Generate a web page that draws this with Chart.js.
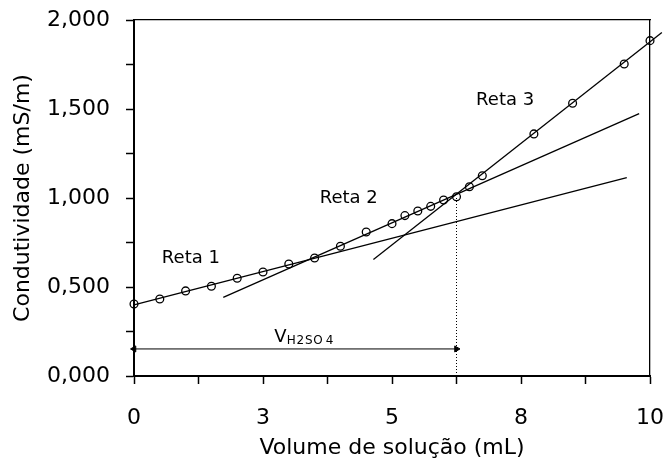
<!DOCTYPE html>
<html>
<head>
<meta charset="utf-8">
<script src="https://cdn.jsdelivr.net/npm/chart.js@4.4.1/dist/chart.umd.min.js"></script>
<style>
  html, body { margin: 0; padding: 0; background: #fff; }
  #wrap { width: 665px; height: 463px; }
</style>
</head>
<body>
<div id="wrap"><canvas id="chart"></canvas></div>
<script>
'use strict';

// measured points (mL, mS/m)
const volume = [0, 0.5, 1, 1.5, 2, 2.5, 3, 3.5, 4, 4.5, 5, 5.25, 5.5, 5.75, 6, 6.25, 6.5, 6.75, 7.75, 8.5, 9.5, 10];
const condutividade = [0.404, 0.433, 0.478, 0.504, 0.549, 0.584, 0.629, 0.663, 0.729, 0.809, 0.856, 0.901, 0.927, 0.953, 0.989, 1.007, 1.063, 1.125, 1.360, 1.532, 1.753, 1.884];

// fitted lines (end points)
const reta1X = [0, 9.55];
const reta1Y = [0.40, 1.115];
const reta2X = [1.73, 9.79];
const reta2Y = [0.442, 1.474];
const reta3X = [4.64, 10.23];
const reta3Y = [0.655, 1.93];

// equivalence volume marker
const vEquiv = 6.25;
const vEquivTop = 1.01;
const arrowY = 0.152;

const xTickLabels = ['0', '3', '5', '8', '10'];
const yTickLabels = ['0,000', '0,500', '1,000', '1,500', '2,000'];

const retaLabels = ['Reta 1', 'Reta 2', 'Reta 3'];
const retaLabelX = [0.54, 3.6, 6.63];
const retaLabelY = [0.663, 1.0, 1.55];

const FONT = "'DejaVu Sans', Verdana, sans-serif";

function pts(xs, ys) {
    let out = [];
    for (let i = 0; i < xs.length; i++) {
        out.push({ x: xs[i], y: ys[i] });
    }
    return out;
}

function fitLine(xs, ys) {
    return {
        type: 'line',
        data: pts(xs, ys),
        borderColor: '#000',
        borderWidth: 1.3,
        pointRadius: 0,
        fill: false,
        clip: false
    };
}

// text labels placed in data coordinates
const labelPlugin = {
    id: 'labels',
    afterDatasetsDraw(chart) {
        const ctx = chart.ctx;
        const xs = chart.scales.x;
        const ys = chart.scales.y;
        ctx.save();
        ctx.fillStyle = '#000';
        ctx.textBaseline = 'middle';
        ctx.textAlign = 'left';
        ctx.font = '18px ' + FONT;
        for (let i = 0; i < retaLabels.length; i++) {
            ctx.fillText(retaLabels[i], xs.getPixelForValue(retaLabelX[i]), ys.getPixelForValue(retaLabelY[i]));
        }
        // V with subscript H2SO4
        const vx = xs.getPixelForValue(2.72);
        const vy = ys.getPixelForValue(0.22);
        ctx.fillText('V', vx, vy);
        const w = ctx.measureText('V').width;
        ctx.font = '12px ' + FONT;
        let sx = vx + w;
        const sub = ['H', '2', 'S', 'O', '4'];
        for (let i = 0; i < sub.length; i++) {
            ctx.fillText(sub[i], sx, vy + 4);
            sx += ctx.measureText(sub[i]).width + (i === 3 ? 3 : 0.8);
        }
        ctx.restore();
    }
};

const data = {
    datasets: [
        fitLine(reta1X, reta1Y),
        fitLine(reta2X, reta2Y),
        fitLine(reta3X, reta3Y),
        {
            type: 'line',
            data: pts([vEquiv, vEquiv], [0, vEquivTop]),
            borderColor: '#000',
            borderWidth: 1,
            borderDash: [1, 2],
            pointRadius: 0,
            clip: false
        },
        {
            type: 'line',
            data: pts([0, vEquiv], [arrowY, arrowY]),
            borderColor: '#000',
            borderWidth: 1,
            pointStyle: 'triangle',
            pointRadius: 3.5,
            pointRotation: [270, 90],
            pointBackgroundColor: '#000',
            pointBorderColor: '#000',
            pointBorderWidth: 1,
            clip: false
        },
        {
            type: 'scatter',
            data: pts(volume, condutividade),
            pointStyle: 'circle',
            pointRadius: 3.9,
            pointBorderWidth: 1.3,
            pointBorderColor: '#000',
            pointBackgroundColor: 'rgba(0,0,0,0)',
            showLine: false,
            clip: false
        }
    ]
};

const config = {
    type: 'scatter',
    data: data,
    options: {
        responsive: true,
        maintainAspectRatio: false,
        animation: false,
        events: [],
        layout: { padding: { left: 0, right: 15, top: 20, bottom: 0 } },
        plugins: {
            legend: { display: false },
            tooltip: { enabled: false }
        },
        scales: {
            x: {
                type: 'linear',
                position: 'bottom',
                min: 0,
                max: 10,
                afterFit(s) {
                    s.height = 87;
                    s.paddingLeft = 0;
                    s.paddingRight = 0;
                },
                border: { display: true, color: '#000', width: 2 },
                grid: { drawOnChartArea: false, drawTicks: true, tickLength: 8, tickColor: '#000', tickWidth: 1.5 },
                ticks: {
                    stepSize: 1.25,
                    autoSkip: false,
                    maxRotation: 0,
                    padding: 21,
                    color: '#000',
                    font: { family: FONT, size: 22 },
                    callback: function (value, index) {
                        return index % 2 === 0 ? xTickLabels[index / 2] : '';
                    }
                },
                title: {
                    display: true,
                    text: 'Volume de solução (mL)',
                    color: '#000',
                    font: { family: FONT, size: 22 },
                    padding: { top: 0, bottom: 2 }
                }
            },
            y: {
                type: 'linear',
                position: 'left',
                min: 0,
                max: 2,
                afterFit(s) {
                    s.width = 134;
                    s.paddingTop = 0;
                    s.paddingBottom = 0;
                },
                border: { display: true, color: '#000', width: 2 },
                grid: { drawOnChartArea: false, drawTicks: true, tickLength: 8, tickColor: '#000', tickWidth: 1.5 },
                ticks: {
                    stepSize: 0.25,
                    autoSkip: false,
                    padding: 16,
                    color: '#000',
                    font: { family: FONT, size: 22 },
                    callback: function (value, index) {
                        return index % 2 === 0 ? yTickLabels[index / 2] : '';
                    }
                },
                title: {
                    display: true,
                    text: 'Condutividade (mS/m)',
                    color: '#000',
                    font: { family: FONT, size: 22 },
                    padding: { top: 10, bottom: 0 }
                }
            },
            xTop: {
                type: 'linear',
                position: 'top',
                min: 0,
                max: 10,
                afterFit(s) { s.height = 0; },
                border: { display: true, color: '#000', width: 1.3 },
                grid: { display: false },
                ticks: { display: false }
            },
            yRight: {
                type: 'linear',
                position: 'right',
                min: 0,
                max: 2,
                afterFit(s) { s.width = 0; },
                border: { display: true, color: '#000', width: 1.3 },
                grid: { display: false },
                ticks: { display: false }
            }
        }
    },
    plugins: [labelPlugin]
};

const myChart = new Chart(document.getElementById('chart'), config);
</script>
</body>
</html>
